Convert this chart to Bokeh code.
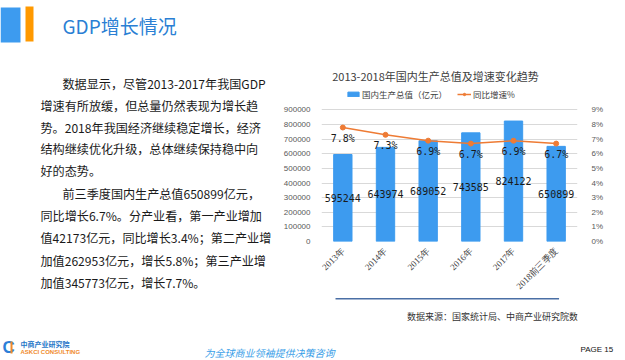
import math
from bokeh.plotting import figure
from bokeh.layouts import row, column
from bokeh.models import (ColumnDataSource, FactorRange, Range1d, LinearAxis, FixedTicker,
                          Label, LabelSet, BoxAnnotation, PolyAnnotation, Legend, LegendItem,
                          NumeralTickFormatter, PrintfTickFormatter)
from bokeh.core.properties import value
from bokeh.embed import file_html
from bokeh.resources import INLINE

# ---------------- data ----------------
categories = ["2013年", "2014年", "2015年", "2016年", "2017年", "2018前三季度"]
gdp = [595244, 643974, 689052, 743585, 824122, 650899]
growth = [7.8, 7.3, 6.9, 6.7, 6.9, 6.7]
gdp_ticks = [0, 100000, 200000, 300000, 400000, 500000, 600000, 700000, 800000, 900000]
pct_ticks = [0, 1, 2, 3, 4, 5, 6, 7, 8, 9]
gdp_max, pct_max = 900000, 9

chart_title = "2013-2018年国内生产总值及增速变化趋势"
series_bar = "国内生产总值（亿元）"
series_line = "同比增速%"
page_title = "GDP增长情况"
paragraph = [
    "数据显示，尽管2013-2017年我国GDP",
    "增速有所放缓，但总量仍然表现为增长趋",
    "势。2018年我国经济继续稳定增长，经济",
    "结构继续优化升级，总体继续保持稳中向",
    "好的态势。",
    "前三季度国内生产总值650899亿元，",
    "同比增长6.7%。分产业看，第一产业增加",
    "值42173亿元，同比增长3.4%；第二产业增",
    "加值262953亿元，增长5.8%；第三产业增",
    "加值345773亿元，增长7.7%。",
]
source_note = "数据来源：国家统计局、中商产业研究院数据库"
footer_slogan = "为全球商业领袖提供决策咨询"

BAR = "#3D9BEF"
ORANGE = "#EE7B34"
CJK = "Noto Sans CJK SC"


def blank(w, h, x0, x1, y0, y1):
    """A figure whose frame fills the canvas; data coords = page pixel coords."""
    f = figure(width=w, height=h, output_backend="svg", toolbar_location=None, title=None,
               x_range=Range1d(x0, x1), y_range=Range1d(y1, y0),
               x_axis_location=None, y_axis_location=None,
               min_border=0, min_border_left=0, min_border_right=0,
               min_border_top=0, min_border_bottom=0)
    f.grid.visible = False
    f.outline_line_color = None
    f.background_fill_color = "white"
    f.border_fill_color = "white"
    return f


def T(f, text, x, y, size, color="#1a1a1a", font=CJK, align="left", style="normal"):
    f.add_layout(Label(x=x, y=y, text=text, text_font=font, text_font_size=size,
                       text_color=color, text_align=align, text_baseline="middle",
                       text_font_style=style))


def R(f, x0, y0, x1, y1, color):
    f.add_layout(BoxAnnotation(left=x0, right=x1, top=y0, bottom=y1,
                               fill_color=color, fill_alpha=1, line_color=None))


# ---------------- left panel (page x 0..278, y 0..338) ----------------
LW = 278
left = blank(LW, 338, 0, LW, 0, 338)
R(left, 0, 7, 20, 42, "#3D9BEF")
R(left, 25, 6, 33, 41, "#FF9900")
T(left, page_title, 62, 25, "19px", color="#2A7FD4")
ys = [83, 105, 127, 148, 170, 193, 215, 237, 260, 282]
for i, (line, y) in enumerate(zip(paragraph, ys)):
    x = 62 if i in (0, 5) else 40
    T(left, line, x, y, "12.1px", color="#1a1a1a")

# ---------------- chart (page x 278..625, y 0..297) ----------------
PG_L, PG_R, PG_T, PG_B = 321, 577, 62, 243   # page geometry of the plot frame
PLOT_H = 133            # pixels from value 0 to the top tick
FRAME_H = PG_B - PG_T
CH_X0, CH_Y0, CH_W, CH_H = LW, 0, 625 - LW, 297

src = ColumnDataSource(dict(
    cat=categories,
    gdp=gdp,
    mid=[v / 2 for v in gdp],
    gdp_txt=[str(v) for v in gdp],
    growth=growth,
    growth_txt=[f"{g}%" for g in growth],
))

p = figure(width=CH_W, height=CH_H, output_backend="svg", toolbar_location=None, title=None,
           x_range=FactorRange(*categories, range_padding=0),
           y_range=Range1d(0, gdp_max * FRAME_H / PLOT_H),
           min_border_left=PG_L - CH_X0, min_border_right=CH_X0 + CH_W - PG_R,
           min_border_top=PG_T - CH_Y0, min_border_bottom=CH_Y0 + CH_H - PG_B)
p.outline_line_color = None
p.background_fill_color = "white"
p.border_fill_color = "white"
p.extra_y_ranges = {"pct": Range1d(0, pct_max * FRAME_H / PLOT_H)}

p.yaxis.ticker = FixedTicker(ticks=gdp_ticks)
p.yaxis.formatter = NumeralTickFormatter(format="0")
ra = LinearAxis(y_range_name="pct", ticker=FixedTicker(ticks=pct_ticks),
                formatter=PrintfTickFormatter(format="%d%%"))
p.add_layout(ra, "right")
for ax in [p.yaxis[0], ra]:
    ax.axis_line_color = None
    ax.major_tick_line_color = None
    ax.minor_tick_line_color = None
    ax.major_label_text_font_size = "8px"
    ax.major_label_text_color = "#595959"
    ax.major_label_text_font = "Liberation Sans"
p.yaxis[0].major_label_standoff = 5
ra.major_label_standoff = 8

xa = p.xaxis[0]
xa.axis_line_color = None
xa.major_tick_line_color = None
xa.minor_tick_line_color = None
xa.major_label_orientation = math.pi / 4
xa.major_label_text_font_size = "9px"
xa.major_label_text_font = "Liberation Serif"
xa.major_label_text_color = "#404040"
xa.major_label_standoff = 2

p.xgrid.grid_line_color = None
p.ygrid.ticker = FixedTicker(ticks=gdp_ticks)
p.ygrid.grid_line_color = "#d9d9d9"

bars = p.vbar(x="cat", top="gdp", width=0.43, color=BAR, source=src)
ln = p.line(x="cat", y="growth", y_range_name="pct", color=ORANGE, line_width=1.5, source=src)
pts = p.scatter(x="cat", y="growth", y_range_name="pct", color=ORANGE, size=5, source=src)

p.add_layout(LabelSet(x="cat", y="mid", text="gdp_txt", source=src,
                      text_align="center", text_baseline="middle",
                      text_font=value("DejaVu Sans Mono"), text_font_size="10px",
                      text_color="#1a1a1a"))
p.add_layout(LabelSet(x="cat", y="growth", y_range_name="pct", text="growth_txt", source=src,
                      y_offset=-11, text_align="center", text_baseline="middle",
                      text_font=value("DejaVu Sans Mono"), text_font_size="10px",
                      text_color="#1a1a1a"))

leg = Legend(items=[LegendItem(label=series_bar, renderers=[bars]),
                    LegendItem(label=series_line, renderers=[ln, pts])],
             orientation="horizontal", location=(348 - PG_L - 2, PG_B - 95 - 7),
             background_fill_alpha=0, border_line_color=None,
             padding=2, margin=0, spacing=10, label_standoff=2,
             glyph_width=14, glyph_height=6, label_height=10,
             label_text_font=CJK, label_text_font_size="8.5px", label_text_color="#404040")
p.add_layout(leg, "center")
p.add_layout(Label(x=435 - PG_L, y=PG_B - 77, x_units="screen", y_units="screen",
                   text=chart_title, text_font=CJK, text_font_size="11px",
                   text_color="#404040", text_align="center", text_baseline="middle"))

# ---------------- source strip (page x 278..625, y 297..338) ----------------
srcf = blank(CH_W, 41, LW, 625, 297, 338)
srcf.add_layout(PolyAnnotation(xs=[297, 600, 600, 297], ys=[297.6, 297.6, 299, 299],
                               fill_color="#4A6FA5", fill_alpha=1, line_color=None))
T(srcf, source_note, 394, 316, "9px", color="#333333")

# ---------------- footer (page x 0..625, y 338..360) ----------------
foot = blank(625, 22, 0, 625, 338, 360)
T(foot, "C", 2, 347, "17px", color="#2C7FD8", style="bold", font="Liberation Sans")
R(foot, 10, 341, 12, 353, "#F08A2A")
T(foot, "中商产业研究院", 20, 343, "7px", color="#2576C8", style="bold")
T(foot, "ASKCI CONSULTING", 20, 351, "6px", color="#F08A2A", style="bold", font="Liberation Sans")
T(foot, footer_slogan, 269, 352, "10px", color="#3AA0E8", style="italic", align="center")
T(foot, "PAGE  15", 580, 349, "8px", color="#111111", font="Liberation Sans")

layout = column(row(left, column(p, srcf, spacing=0), spacing=0), foot, spacing=0)
open("out.html", "w").write(file_html(layout, INLINE))
